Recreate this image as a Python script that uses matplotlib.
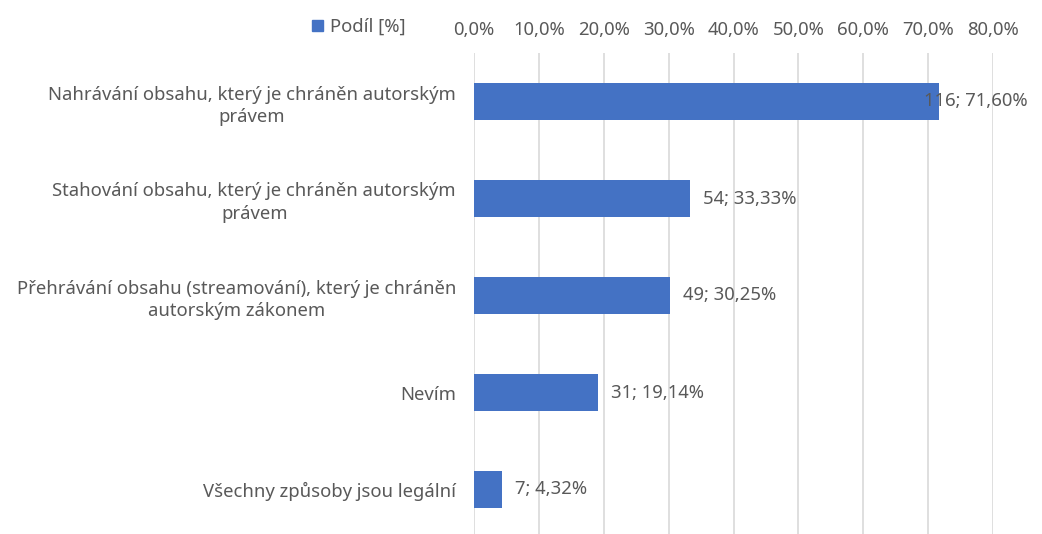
import matplotlib
matplotlib.use("Agg")
from matplotlib import pyplot as plt
from matplotlib.patches import Patch
from matplotlib.ticker import FuncFormatter

plt.rcParams['font.family'] = ['Noto Sans', 'DejaVu Sans']

categories = ["Nahrávání obsahu, který je chráněn autorským\nprávem",
              "Stahování obsahu, který je chráněn autorským\nprávem",
              "Přehrávání obsahu (streamování), který je chráněn\nautorským zákonem",
              "Nevím",
              "Všechny způsoby jsou legální"]
counts = [116, 54, 49, 31, 7]
shares = [71.60, 33.33, 30.25, 19.14, 4.32]
x_ticks = [0, 10, 20, 30, 40, 50, 60, 70, 80]

BAR_COLOR = "#4472C4"
TEXT_COLOR = "#595959"
GRID_COLOR = "#D9D9D9"
FONTSIZE = 13.3

W, H = 1042, 534
fig = plt.figure(figsize=(W / 100, H / 100), dpi=100)
ax = fig.add_axes([474 / W, -4 / H, (993 - 474) / W, (536 - 51) / H])

ypos = list(range(len(categories)))
ax.barh(ypos, shares, height=0.38, color=BAR_COLOR, zorder=3)
ax.set_ylim(len(categories) - 0.5, -0.5)
ax.set_xlim(0, 80)

ax.set_xticks(x_ticks)
ax.xaxis.set_major_formatter(FuncFormatter(lambda v, p: f"{v:.1f}%".replace(".", ",")))
ax.xaxis.tick_top()
ax.tick_params(axis="x", length=0, pad=10, labelsize=FONTSIZE, labelcolor=TEXT_COLOR)
ax.grid(axis="x", color=GRID_COLOR, linewidth=1.2, zorder=0)

ax.set_yticks(ypos)
ax.set_yticklabels(categories, fontsize=FONTSIZE, color=TEXT_COLOR,
                   multialignment="center", linespacing=1.3)
ax.tick_params(axis="y", length=0, pad=13)

for spine in ax.spines.values():
    spine.set_visible(False)

# Data labels: "count; share%"
for y, n, s in zip(ypos, counts, shares):
    label = f"{n}; {s:.2f}%".replace(".", ",")
    off = 13 if s < 65 else -15
    ax.annotate(label, xy=(s, y), xytext=(off, 0), textcoords="offset pixels",
                ha="left", va="center", fontsize=FONTSIZE, color=TEXT_COLOR, zorder=4,
                annotation_clip=False)

fig.legend(handles=[Patch(color=BAR_COLOR, label="Podíl [%]")],
           loc="center left", bbox_to_anchor=(295 / W, 1 - 27 / H), frameon=False,
           fontsize=FONTSIZE, labelcolor=TEXT_COLOR, handlelength=0.6, handleheight=0.6,
           handletextpad=0.4)

fig.savefig("out.png", dpi=100)
